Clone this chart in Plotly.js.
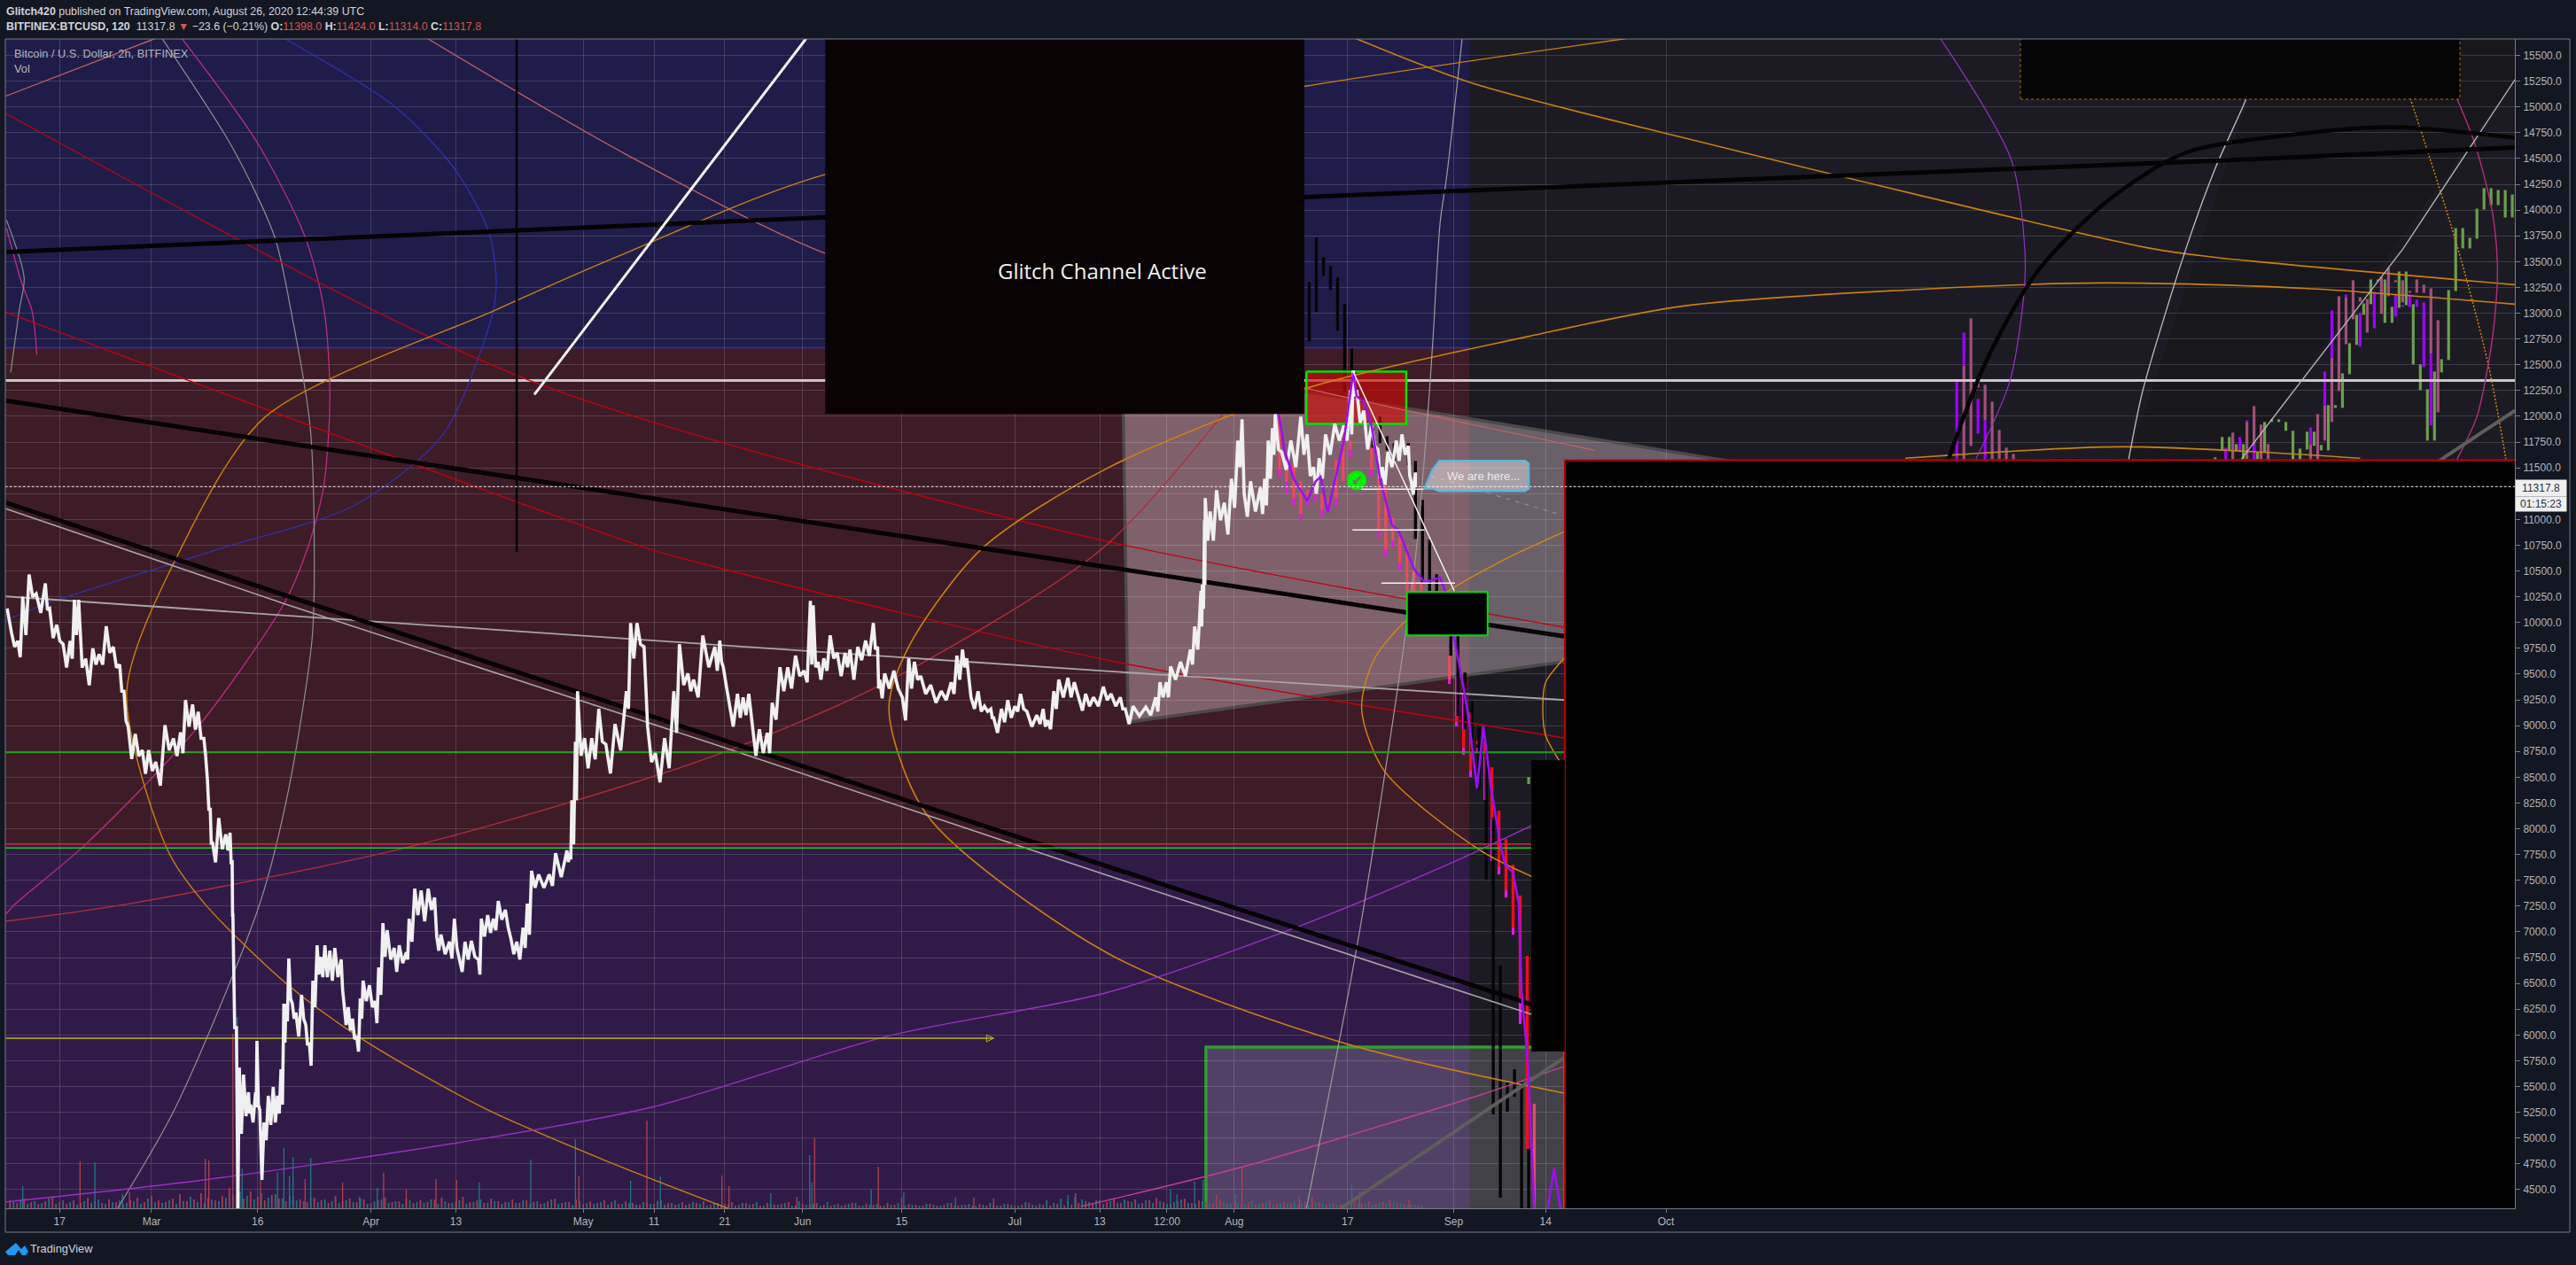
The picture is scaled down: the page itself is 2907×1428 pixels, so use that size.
<!DOCTYPE html>
<html><head><meta charset="utf-8">
<script src="https://cdn.plot.ly/plotly-3.0.1.min.js"></script>
<style>html,body{margin:0;padding:0;background:#131722;overflow:hidden}#c{width:2907px;height:1428px}</style>
</head><body><div id="c"></div>
<script>
// ---- axis labels
const xTickDates=['2020-02-17','2020-03-01','2020-03-16','2020-04-01','2020-04-13','2020-05-01','2020-05-11','2020-05-21','2020-06-01','2020-06-15','2020-07-01','2020-07-13','2020-07-22 12:00','2020-08-01','2020-08-17','2020-09-01','2020-09-14','2020-10-01'];
const xTickLabels=['17','Mar','16','Apr','13','May','11','21','Jun','15','Jul','13','12:00','Aug','17','Sep','14','Oct'];
const priceTicks=[4500,4750,5000,5250,5500,5750,6000,6250,6500,6750,7000,7250,7500,7750,8000,8250,8500,8750,9000,9250,9500,9750,10000,10250,10500,10750,11000,11250,11500,11750,12000,12250,12500,12750,13000,13250,13500,13750,14000,14250,14500,14750,15000,15250,15500];
const lastPrice=11317.8;
// ---- all "day" values: days since 2020-03-01
// white price series (high / low envelope)
const whiteDay=[-20.4,-19.8,-18.9,-18.2,-17.3,-16.3,-15,-14.4,-13.4,-12.5,-11.5,-10.9,-10.3,-9.3,-8.3,-7.4,-6.4,-5.4,-4.5,-3.9,-3.3,-2.3,-1.3,-0.4,0.6,1.9,3.1,4.1,4.8,5.8,6.6,7.4,7.9,8.3,8.6,9.5,10.5,11.1,11.4,11.5,12,12.4,13,13.7,14,14.7,14.9,15.3,15.9,16.5,17.2,17.8,18.3,18.7,19,19.4,19.9,20.4,21.2,21.8,22.3,22.8,23.4,23.9,24.5,25.2,25.9,26.8,27.2,27.8,28.4,29,29.5,29.9,30.8,31.6,32.1,32.7,33.3,34.3,35,36,36.4,37.2,38.1,39.1,40,40.3,40.9,42.1,42.8,43.5,44.3,45.2,46.2,46.6,47.5,48.3,49,50,50.8,51.6,52.5,53.1,53.7,54.7,56.2,57.1,58.7,59.1,59.4,59.9,60.2,61.2,62.2,63.2,64.2,65.5,67.1,67.7,68.6,69.6,70.1,71.2,72.5,73.8,74.6,75.8,76.6,77.9,79.6,80.3,80.8,81.6,82.8,83.6,84.4,84.9,85.9,87,87.7,88.8,89.9,91,92.2,93.1,93.5,94.2,95,95.9,96.9,98,98.7,99.8,100.9,102,102.6,102.9,103.6,104.9,106.1,107,107.8,108.7,110.1,111.6,113,113.8,114.6,115.2,115.8,116.8,117.7,118.6,119,120.1,121,122,122.8,123.7,125.1,126,126.6,127.5,128.2,129.5,130.4,131.1,132,133.1,134.5,135.6,136.9,137.6,138.7,140.5,141.9,142.5,143.4,144,145.4,146.8,147.4,148.3,148.5,148.8,148.9,149.6,150.5,151.6,152.6,153.5,154.1,154.4,155.3,156.7,157.3,157.8,158.4,158.8,159.7,161,162.4,163.3,164.2,165,165.9,167.2,168.5,169.4,169.8,170.3,171.3,172.4,173.3,173.9,174.7,175.9,176.7,177.6,178,178.6];
const whiteHigh=[10136,9907,9821,10250,10465,10279,10379,10136,9978,9792,9821,10221,10221,9649,9749,9692,9964,9764,9592,9334,8991,8919,8762,8762,8647,9005,8876,8934,9248,9205,9134,8876,8476,8189,7875,8104,7946,7961,7677,7162,6071,5685,5616,5444,5324,5444,5942,5272,5152,5410,5496,5410,5668,6303,6303,6741,6303,6217,6389,6097,5925,6526,6870,6758,6870,6818,6844,6732,6303,6269,6157,5985,6354,6526,6483,6329,6655,7084,7016,6844,6870,6801,7127,7419,7402,7419,7333,6955,6973,6904,7127,6732,6904,6913,6732,7127,7162,7127,7299,7213,6930,6904,7041,7273,7591,7557,7557,7763,7789,7763,8278,8845,9334,8879,8879,9162,8819,9016,9334,9995,9995,9764,8991,8733,8879,9334,9789,9506,9446,9875,9764,9824,9566,9248,9308,9274,9308,9016,8965,8930,9222,9566,9566,9678,9532,10210,10167,9618,9652,9875,9704,9704,9738,9764,9824,9995,9764,9446,9506,9532,9274,9652,9618,9480,9394,9334,9420,9678,9738,9652,9274,9334,9188,9162,9076,9162,9248,9188,9308,9137,9102,9162,9051,9334,9446,9463,9420,9248,9308,9274,9377,9308,9274,9162,9188,9180,9274,9420,9420,9574,9618,9738,9961,10305,10364,10991,11206,11077,11283,11163,11395,11764,11970,11249,11369,11309,11395,11764,11884,12022,11653,11764,11996,11824,11507,11593,11824,11927,11910,12254,12443,12254,12056,11910,11678,11507,11653,11764,11824,11713,11369,11455];
const whiteLow=[10007,9764,9663,9878,10250,10093,10121,9849,9821,9563,9649,9878,9563,9391,9592,9592,9706,9563,9334,9048,8676,8705,8533,8561,8418,8762,8705,8733,8991,8962,8876,8705,8189,7846,7674,7803,7789,7674,7162,6071,4319,5041,5213,5238,5152,5298,5324,4594,4980,5127,5152,5238,5324,5925,6131,6354,6157,5985,6157,5899,5702,6269,6586,6561,6561,6526,6561,6440,6097,6045,5960,5839,6157,6329,6269,6114,6389,6758,6732,6612,6698,6732,6904,7162,7101,7213,7187,6818,6784,6741,6844,6612,6732,6758,6586,6955,6990,7016,7119,7041,6784,6732,6844,6973,7428,7428,7445,7531,7677,7703,7849,8278,8707,8587,8673,8845,8536,8759,9162,9652,9789,9274,8647,8450,8587,8930,9394,9334,9274,9566,9532,9618,9394,8991,9076,9102,9162,8707,8733,8733,9059,9334,9360,9480,9420,9592,9566,9446,9532,9652,9480,9566,9446,9635,9678,9738,9360,9265,9360,9360,9051,9360,9446,9308,9222,9248,9308,9446,9566,9446,9162,9137,9137,9076,8930,9033,9076,9137,9162,8991,9016,8991,8965,9162,9274,9274,9334,9145,9188,9188,9248,9188,9162,9016,9094,9102,9137,9274,9274,9446,9480,9592,9738,9961,10133,10364,10794,10794,10991,10854,11112,11507,11507,11026,11077,11052,11137,11395,11627,11678,11481,11507,11627,11421,11249,11395,11627,11764,11764,11824,12194,11936,11678,11713,11395,11335,11507,11567,11627,11421,11240,11309];
// projected drop: candle pieces
const blackDay=[163.6,164.6,165.6,166.6,167.6,168.6,169.6,172.6,173.6,174.6,175.6,177.6,178.6,179.6,180.6,181.6,183.6,184.6,185.6,186.6,187.6,188.6,189.6,190.6,191.6,192.6,193.6,194.6];
const blackHigh=[13301,13731,13542,13456,13345,13087,12658,11885,11996,11807,11739,11739,11567,11189,10803,10468,9875,9875,9515,9240,8991,8733,8106,6672,5539,5668,5539,4895];
const blackLow=[12726,13010,13362,13224,12829,12237,12443,11696,11739,11670,11567,11524,10811,10390,10305,10305,9678,9094,8965,8733,8381,7505,5230,4422,5256,5401,4319,4319];
const magentaDay=[159.4,160.4,161.4,162.4,163.4,164.4,165.4,166.4,167.4,169.4,172.4,173.4,174.4,175.4,176.4,183.4,184.4,185.4,186.4,187.4,188.4,189.4,190.4,191.4,192.4,193.4];
const magentaHigh=[11481,11369,11206,11052,11206,11240,11095,11120,11206,11678,11481,10897,10708,10794,10579,9446,9480,9308,8570,8785,8776,8106,7634,7831,7041,6329];
const magentaLow=[11412,11249,11137,10991,11137,11172,11026,11077,11129,11601,11421,10828,10639,10725,10510,9403,8991,8716,8501,8750,8278,7685,7557,7333,6973,6106];
const salmonDay=[159.4,160.4,161.4,162.4,163.4,164.4,165.4,166.4,167.4,168.4,169.4,172.4,173.4,174.4,175.4,176.4,177.4,178.4,179.4,183.4,195.4];
const salmonHigh=[12022,11627,11541,11369,11283,11283,11249,11206,11575,11764,11764,11696,11653,11326,11017,10837,10734,10553,10390,9678,5333];
const salmonLow=[11481,11369,11206,11052,11206,11240,11095,11120,11206,11369,11678,11481,10897,10708,10794,10579,10305,10305,10305,9446,4319];
const redDay=[184.4,185.4,186.4,187.4,188.4,189.4,190.4,191.4,192.4,193.4,194.4];
const redHigh=[9094,8965,9128,8853,8845,8596,8175,7900,7651,7351,6767];
const redLow=[9059,8785,8570,8819,8690,8106,7634,7402,7041,6329,4895];
// right-hand candles
const greenDay=[194.6,291.6,292.6,293.6,294.6,295.6,297.6,298.6,299.6,300.6,301.6,302.6,303.6,304.6,305.6,306.6,307.6,308.6,309.6,310.6,311.6,312.6,313.6,314.6,315.6,316.6,317.6,318.6,319.6,320.6,321.6,322.6,323.6,324.6,325.6,326.6,327.6,328.6,329.6,330.6,331.6,332.6,333.6];
const greenHigh=[8501,11601,11799,11799,11730,11730,11653,11945,11970,11970,11945,11859,11687,11850,11850,11721,12108,12108,12417,12709,12984,13095,13327,13327,13327,13061,13404,13404,13087,12503,12262,12434,12554,13224,13825,13825,13731,14014,14212,14212,14194,14194,14151];
const greenLow=[8433,11584,11670,11670,11661,11584,11584,11653,11945,11945,11859,11584,11584,11678,11713,11670,11670,12082,12082,12408,12692,12984,13087,13310,12906,12906,13052,13078,12503,12254,11764,11764,12426,12546,13215,13628,13628,13722,14005,14048,14048,13928,13928];
const mauveDay=[256.1,257.1,258.1,259.1,260.1,261.1,262.1,263.1,294.1,296.1,297.1,298.1,299.1,305.1,306.1,307.1,308.1,309.1,310.1,311.1,312.1,313.1,314.1,315.1,316.1,317.1,318.1,319.1,320.1,321.1,322.1,323.1];
const mauveHigh=[12494,12949,12331,12305,12142,11867,11696,11635,11842,11945,12099,11919,11730,11730,12022,12108,12571,13164,13155,13319,13155,13138,13018,13353,13439,13319,13319,13215,13327,13276,13241,12932];
const mauveLow=[11584,11713,12280,11962,11584,11584,11584,11584,11584,11584,11584,11584,11584,11584,11584,11764,11945,12245,12700,12941,13112,12812,12975,12992,13164,13300,13104,13198,13198,13198,12606,12039];
const violetDay=[255.1,256.1,258.1,259.1,293.1,295.1,296.1,297.1,305.1,307.1,308.1,310.1,312.1,314.1,317.1,318.1,319.1,320.1,321.1,322.1];
const violetHigh=[12357,12812,12168,11962,11696,11799,11962,11721,11893,12434,13027,13181,13001,13207,13181,13078,13181,13130,13104,12606];
const violetLow=[11584,12494,11833,11584,11584,11653,11945,11584,11730,12108,12571,13155,12675,12855,12966,13061,13061,13061,12477,11910];
// moving average over the projected drop
const maDay=[159.3,160.1,161.4,163.3,164.5,165.2,166.2,168.5,169.8,170.3,171.3,172.4,173.6,175.3,176.2,178.4,179.9,182.1,182.8,184,185.5,186.2,187.3,188.2,189.3,190.5,191.2,192.4,193.2,193.6,194.5,195.4,null,197.3,198.2,199.1];
const maPrice=[12022,11670,11395,11181,11370,11412,11069,11765,12426,12194,12142,11910,11395,10940,10897,10519,10391,10434,10305,9875,9334,9033,8390,8991,8390,7892,7660,7574,7274,6415,5728,4319,null,4319,4706,4319];
// volume
const volDay=[];for(let d=-20;d<180;d++)volDay.push(d);
const volRed=[9,6,11,7,5,8,13,7,5,9,6,12,8,6,10,7,5,9,12,7,14,9,7,11,16,8,10,17,12,9,14,23,16,11,19,13,9,15,11,8,13,10,7,12,9,6,14,8,11,7,10,6,9,12,7,8,11,6,9,7,10,12,6,8,13,7,9,6,11,8,7,10,6,9,7,5,8,11,6,7,10,5,8,6,9,7,5,8,6,4,7,5,9,6,4,7,5,6,8,4,6,5,7,4,6,5,3,6,4,5,7,3,5,4,6,4,3,5,4,6,3,5,4,3,6,4,3,5,4,3,5,3,4,6,3,4,3,5,3,4,3,5,3,4,6,3,4,3,5,3,4,6,8,5,9,7,11,6,8,10,6,9,12,7,5,8,11,6,9,7,5,10,6,8,5,7,4,6,9,5,7,6,4,8,5,7,4,6,5,7,9,6,8,5,7,9,6,5,4,3];
const volTeal=[7,10,5,8,6,11,5,9,7,4,8,6,10,5,7,9,6,8,5,11,7,6,9,5,8,13,7,6,10,8,12,15,19,14,10,17,12,16,11,14,9,8,12,7,10,8,6,9,7,11,5,8,10,6,8,5,9,7,6,10,5,8,6,9,5,7,10,6,8,5,7,6,9,5,8,6,10,5,7,4,8,6,5,7,4,9,5,6,4,7,5,8,4,6,5,4,7,5,3,6,4,5,3,6,4,7,3,5,4,6,3,8,4,5,3,7,4,3,5,6,3,4,5,3,4,6,3,4,3,5,4,3,6,3,4,5,3,4,6,3,5,4,3,7,4,5,9,6,11,8,13,10,7,9,5,8,6,10,7,5,9,6,8,5,7,10,6,5,8,6,4,7,5,6,4,8,5,7,4,6,5,8,6,4,7,5,6,4,5,7,5,6,4,6,5,7,5,3,4,2];
const spikeRedDay=[-10.1,-3.1,7.6,8.1,11.5,15.4,21.7,27,32.8,36,40.2,43.1,60.4,70,80.6,81.6,91.2,93.7,102.7,106,116.2,119,130.6,150.5,154.1,162.2,164,170.7,177.7];
const spikeRedVol=[53,18,56,54,197,32,33,29,40,21,33,32,36,99,37,25,13,79,47,12,12,11,17,15,46,13,13,19,10];
const spikeTealDay=[-18.2,-8,-4.1,12.1,12.8,17.8,18.7,19.5,20,22.5,29.4,31.9,46.3,53.6,59.9,67.7,71.9,87.5,93,93.3,101.7,106.3,113.6,129.5,144,144.9,147.4,148.6,153.2,169.6];
const spikeTealVol=[25,52,16,216,45,41,68,36,58,57,13,23,29,55,78,31,36,17,60,29,21,18,12,15,21,16,30,32,16,27];
// ---- drawn trend lines and arcs: [days],[prices]
const topBlackDay=[-20.5,162.9,291.6,334], topBlackPrice=[13593,14126,14478,14607];
const arcBlackDay=[253.9,259.1,266.5,276.6,287.4,304.2,316.7,334], arcBlackPrice=[11576,12512,13405,14100,14555,14744,14804,14701];
const midBlackDay=[-20.6,135.1,199.6], midBlackPrice=[12151,10537,9867];
const lowBlackDay=[-20.6,19.4,78.8,135.1,195], lowBlackPrice=[11163,10253,8905,7634,6295];
const lowGreyPrice=[11103,10167,8836,7548,6200];
const greyLineDay=[-20.6,78.8,143.6,199.8], greyLinePrice=[10253,9789,9489,9248];
const whiteDiagDay=[54.1,92.5], whiteDiagPrice=[12211,15663];
const salmonADay=[-20.6,0.5], salmonAPrice=[15105,15663];
const salmonBDay=[39,66.2,95,135.1,163.2,204], salmonBPrice=[15663,14572,13585,12769,12271,11670];
const redUpDay=[-20.5,31.4,53.7,78.8,135.1,199.7], redUpPrice=[14933,13027,12340,11781,10786,9953];
const redLoDay=[-20.6,70.6,78.8,135.1,199.8], redLoPrice=[13010,10708,10554,9635,8879];
const redArcDay=[-20.6,-3.1,37.9,78.8,103.8,134.2,151.4], redArcPrice=[7102,7273,7849,8690,9420,10708,12022];
const orangeADay=[199.6,168.7,135.1,109.6,104.2,107,117.2,135.1,163.2,194.2,216.5,247.8,275.7,304.2,334];
const orangeAPrice=[5436,5917,6793,8132,9162,9764,10708,11498,12271,12769,13070,13224,13293,13241,13087];
const orangeBDay=[81.4,65,46.8,29.6,19,7.4,2.3,-3.5,4.1,16.1,48.5,66.2,95,162.9,208.4];
const orangeBPrice=[4319,4758,5298,5968,6501,7282,7789,9334,10708,11996,13027,13559,14341,15199,15663];
const orangeCDay=[199.6,187.8,174.2,171,172.7,177.3,183.2,191.5,199.6], orangeCPrice=[7402,7789,8561,9162,9635,10021,10305,10622,10880];
const orangeDDay=[199.7,197,196.6,197,199.3], orangeDPrice=[9661,9420,9188,8905,8621];
const orangeEDay=[170.2,186.5,216.5,282.5,291.6,334], orangeEPrice=[15663,15234,14701,13628,13542,13276];
const orangeFDay=[247.8,278.5,312.1], orangeFPrice=[11593,11704,11593];
const dottedDay=[316.2,319.2,325.8,330.2,332.7], dottedPrice=[15663,15079,13654,12503,11584];
const pinkRDay=[325.8,328.4,330.8,331.5,331.1,330.2,328.6,325.8], pinkRPrice=[15079,14624,13971,13456,12941,12503,11996,11584];
const pinkLDay=[4.3,14.9,21.7,24.4,25.2,24.3,22,18.8,6.6,-9.3,-19.2,-20.6], pinkLPrice=[15663,14658,13739,13027,12168,11309,10708,10193,8991,7849,7274,7170];
const pinkSDay=[-20.5,-18.3,-16.9,-16.2], pinkSPrice=[13825,13284,13027,12597];
const greySDay=[-20.5,-18,-18.7,-19.9], greySPrice=[13903,13344,13027,12426];
const greyLDay=[1.5,11.5,17.4,19.7,22.4,23,22.7,19.4,15.3,3.4,-4.8], greyLPrice=[15663,14598,13739,13027,11910,10708,9850,8390,7274,5298,4319];
const blueDay=[18.8,34.4,42.8,47.6,48.7,48.3,41.2,28.7,9.3,-14.4,-20.6], bluePrice=[15663,15002,14401,13800,13344,13027,11825,11138,10708,10193,10021];
const purpleLoDay=[-20.6,7.4,43.3,70.6,103.8,135.1,161.4,183.1,195], purpleLoPrice=[4380,4594,4955,5298,5985,6413,7034,7651,8029];
const magentaLoDay=[131.3,135.1,154.3,168.7,187.8,199.6], magentaLoPrice=[4337,4397,4723,5015,5419,5694];
const purpleRDay=[252.8,262.8,264.7,264.6,262.6,257.8], purpleRPrice=[15663,14487,13628,13199,12340,11584];
const greyMidDay=[185.2,183,182.1,181.1,180.6,178.6,175.1,170.3,163.2], greyMidPrice=[15663,14315,13885,12769,12254,10622,8905,6844,4319];
const whiteArcDay=[279.4,281.4,287.5,291.6,296,299.2], whiteArcPrice=[11584,12254,13628,14401,15079,15663];
const thinDiagDay=[295.3,318.2,334], thinDiagPrice=[11584,13628,15268];
const greyThickDay=[168.1,199.6,323.6,334], greyThickPrice=[4319,5779,11584,12056];
const peakDay=[169.8,184.1], peakPrice=[12434,10305];
const dashDay=[180.8,198.8], dashPrice=[11421,11051];
const stepDay=[170.9,179.9,null,169.7,179.9,null,173.8,184.2], stepPrice=[11292,11292,null,10897,10897,null,10382,10382];

// ---- helpers
const ORIGIN=Date.UTC(2020,2,1);
const iso=d=>d===null?null:new Date(ORIGIN+d*864e5).toISOString().slice(0,19).replace('T',' ');
const dates=a=>a.map(iso);
const L={l:6,r:69,t:43.5,b:64,w:2832,h:1320.5};
const fx=p=>(p-L.l)/L.w, fy=p=>(L.t+L.h-p)/L.h;
function curve(x,y,color,width,opt){opt=opt||{};return {type:'scatter',mode:'lines',x:dates(x),y:y,yaxis:'y2',hoverinfo:'skip',
  line:{color:color,width:width,shape:opt.straight?'linear':'spline',smoothing:0.8,dash:opt.dash||'solid'}};}
function bars(x,hi,lo,color,w,axis){return {type:'bar',x:dates(x),y:hi.map((v,i)=>v-lo[i]),base:lo,width:x.map(()=>w*864e5),yaxis:axis,hoverinfo:'skip',marker:{color:color,line:{width:0}}};}
function vols(x,v,color,w){return {type:'bar',x:dates(x),y:v,width:x.map(()=>w*864e5),yaxis:'y',hoverinfo:'skip',marker:{color:color,line:{width:0}}};}
const ORANGE='#cc7f12',RED='#c4000c',SALM='#c8605f',PINK='#c02b85',PURP='#9a2fc4',GREY='#a6a6a6';

// the white price is stroked high -> low for every reading, which gives the fuzzy 2h-candle look
const fuzzX=[],fuzzY=[];
whiteDay.forEach((d,i)=>{fuzzX.push(d,i+1<whiteDay.length?(d+whiteDay[i+1])/2:d);fuzzY.push(whiteHigh[i],whiteLow[i]);});

const traces=[
 vols(volDay,volRed,'#a33f4a',0.22),
 vols(volDay.map(d=>d+0.5),volTeal,'#1f7480',0.22),
 vols(spikeRedDay,spikeRedVol,'#b5404a',0.16),
 vols(spikeTealDay,spikeTealVol,'#1f7a86',0.16),
 curve([-20.6,334],[12348,12348],'#c9c7c7',3,{straight:true}),
 bars(magentaDay,magentaHigh,magentaLow,'#e818e0',0.4,'y2'),
 bars(salmonDay,salmonHigh,salmonLow,'#f0485e',0.4,'y2'),
 bars(redDay,redHigh,redLow,'#ff0a14',0.42,'y2'),
 bars(blackDay,blackHigh,blackLow,'#060404',0.42,'y2'),
 bars(mauveDay,mauveHigh,mauveLow,'#a34f7b',0.4,'y2'),
 bars(violetDay,violetHigh,violetLow,'#a000ff',0.4,'y2'),
 bars(greenDay,greenHigh,greenLow,'#6ba04a',0.4,'y2'),
 {type:'scatter',mode:'lines',x:dates([163.2,177.3,177.3,163.2,163.2]),y:[12434,12434,11927,11927,12434],yaxis:'y2',hoverinfo:'skip',fill:'toself',fillcolor:'rgba(208,9,3,0.64)',line:{color:'#00e400',width:2.5}},
 curve(blueDay,bluePrice,'#2f2fb0',1.3),
 curve(pinkLDay,pinkLPrice,PINK,1.3),
 curve(pinkSDay,pinkSPrice,PINK,1.3),
 curve(greySDay,greySPrice,'#8a8a8a',1.2),
 curve(greyLDay,greyLPrice,'#8f8f8f',1.2),
 curve(salmonADay,salmonAPrice,SALM,1.3,{straight:true}),
 curve(salmonBDay,salmonBPrice,SALM,1.3),
 curve(redUpDay,redUpPrice,RED,1.4),
 curve(redLoDay,redLoPrice,RED,1.4),
 curve(redArcDay,redArcPrice,'#b52c3a',1.4),
 curve(orangeADay,orangeAPrice,ORANGE,1.6),
 curve(orangeBDay,orangeBPrice,ORANGE,1.4),
 curve(orangeCDay,orangeCPrice,'#d9860f',1.4),
 curve(orangeDDay,orangeDPrice,'#d9860f',1.4),
 curve(orangeEDay,orangeEPrice,ORANGE,1.6),
 curve(orangeFDay,orangeFPrice,ORANGE,1.6),
 curve(dottedDay,dottedPrice,'#d9860f',1.5,{dash:'2px,2px'}),
 curve(pinkRDay,pinkRPrice,'#b82c7c',1.4),
 curve(purpleLoDay,purpleLoPrice,PURP,1.4),
 curve(magentaLoDay,magentaLoPrice,'#c2408f',1.4),
 curve(purpleRDay,purpleRPrice,PURP,1.2),
 curve(greyMidDay,greyMidPrice,'#9c9c9c',1.2),
 curve(whiteArcDay,whiteArcPrice,'#c0c0c0',1.3),
 curve(thinDiagDay,thinDiagPrice,'#b8b8b8',1.3,{straight:true}),
 curve(greyThickDay,greyThickPrice,'#5e5e5a',4,{straight:true}),
 curve(greyLineDay,greyLinePrice,GREY,1.8),
 curve(lowBlackDay,lowGreyPrice,GREY,1.6),
 curve(topBlackDay,topBlackPrice,'#050303',5),
 curve(arcBlackDay,arcBlackPrice,'#050303',4.5),
 curve(midBlackDay,midBlackPrice,'#050303',5),
 curve(lowBlackDay,lowBlackPrice,'#050303',5),
 curve([51.6,51.6],[15663,10683],'#050303',2.4,{straight:true}),
 curve(whiteDiagDay,whiteDiagPrice,'#f4f4f4',3,{straight:true}),
 curve([-20.6,186],[8742,8742],'#2a9d1e',2,{straight:true}),
 curve([-20.6,195],[7852,7852],'#cf2a38',1.5,{straight:true}),
 curve([-20.6,195],[7814,7814],'#22c81e',1.5,{straight:true}),
 curve([186,199.7],[8742,8742],'#189a18',2,{straight:true}),
 curve([-20.6,119],[5968,5968],'#b8b81a',1.4,{straight:true}),
 {type:'scatter',mode:'markers',x:dates([119]),y:[5968],yaxis:'y2',hoverinfo:'skip',marker:{symbol:'arrow-right-open',size:8,color:'#b8b81a',line:{color:'#b8b81a',width:1}}},
 curve(dashDay,dashPrice,'#8f8f98',1.2,{straight:true,dash:'5px,6px'}),
 {type:'scatter',mode:'lines',x:dates(fuzzX),y:fuzzY,yaxis:'y2',hoverinfo:'skip',line:{color:'#f0f0f0',width:3.6,shape:'linear'}},
 curve(maDay,maPrice,'#9a10f0',2.6,{straight:true}),
 curve(peakDay,peakPrice,'#f2f2f2',1.5,{straight:true}),
 curve(stepDay,stepPrice,'#f2f2f2',1.5,{straight:true}),
 {type:'scatter',mode:'markers',x:dates([170.3]),y:[11378],yaxis:'y2',hoverinfo:'skip',marker:{symbol:'circle',size:22,color:'#00ef00',line:{width:0}}}
];

const rect=(d0,d1,p0,p1,fill,line,layer,extra)=>Object.assign({type:'rect',xref:'x',yref:'y2',x0:iso(d0),x1:iso(d1),y0:p0,y1:p1,fillcolor:fill,layer:layer||'below',line:line||{width:0}},extra||{});
const pathOf=pts=>'M'+pts.map(p=>iso(p[0]).replace(' ','_')+','+p[1]).join(' L')+' Z';
const shapes=[
 rect(-20.7,186.2,12666,15700,'#1f1c4a'),
 rect(-20.7,186.2,7832,12666,'#3d1c27'),
 rect(-20.7,186.2,4300,7832,'#301b48'),
 {type:'line',xref:'x',yref:'y2',x0:iso(-20.7),x1:iso(186.2),y0:12666,y1:12666,layer:'below',line:{color:'#3a2f9c',width:1.5}},
 {type:'path',xref:'x',yref:'y2',layer:'below',fillcolor:'#18171b',line:{width:0},path:pathOf([[279.4,11584],[299.2,15663],[334,15663],[334,15268],[295.3,11584]])},
 {type:'path',xref:'x',yref:'y2',layer:'below',fillcolor:'rgba(255,232,244,0.34)',line:{color:'#4b4947',width:3.5},path:pathOf([[137.2,12529],[306.1,10631],[138,9034]])},
 rect(149,199.7,4250,5882,'rgba(255,255,255,0.17)',{color:'#2ca02c',width:3.5}),
 rect(95.2,162.9,12022,15700,'#090403',null,'above'),
 rect(177.4,188.8,9875,10296,'#000',{color:'#00e000',width:2},'above'),
 rect(199.7,334.1,4200,11575,'#000',{color:'#c40000',width:2},'above'),
 rect(195,199.7,5839,8664,'#000',null,'above'),
 rect(264.1,326.2,15075,15700,'#050505',{color:'#a86f1c',width:1,dash:'dot'},'above'),
 {type:'line',xref:'x',yref:'y2',x0:iso(-20.7),x1:iso(334),y0:lastPrice,y1:lastPrice,layer:'above',line:{color:'#f2f2f2',width:1,dash:'3px,2px'}},
 {type:'path',xref:'x',yref:'y2',layer:'above',fillcolor:'rgba(255,255,255,0.42)',line:{color:'#62b6d8',width:2.5},
  path:pathOf([[182,11567],[194.1,11567],[194.6,11541],[194.6,11301],[194.1,11275],[182,11275],[181,11301],[179.9,11300],[181,11480]])},
 {type:'rect',xref:'paper',yref:'paper',x0:fx(6),x1:fx(2900),y0:fy(43.5),y1:fy(1391),layer:'above',line:{color:'#787b86',width:1},fillcolor:'rgba(0,0,0,0)'},
 {type:'path',xref:'paper',yref:'paper',layer:'above',fillcolor:'#2196f3',line:{width:0},
  path:'M'+[[6,1413],[13,1407],[18,1403],[24,1410],[28,1406],[32,1413],[29,1417],[25,1417],[21,1411],[17,1417],[9,1417]].map(p=>fx(p[0])+','+fy(p[1])).join(' L')+' Z'}
];

const txt=(x,y,text,o)=>Object.assign({xref:'paper',yref:'paper',x:fx(x),y:fy(y),text:text,showarrow:false,xanchor:'left',yanchor:'middle',align:'left',
  font:{family:'Liberation Sans, Arial, sans-serif',size:12,color:'#c8cad2'},borderpad:0},o||{});
const R='#d9534f';
const annotations=[
 txt(6,12.5,'<b>Glitch420</b> published on TradingView.com, August 26, 2020 12:44:39 UTC',{font:{family:'Liberation Sans',size:12.4,color:'#d1d4dc'}}),
 txt(6,29.5,'<b>BITFINEX:BTCUSD, 120</b>  11317.8 <span style="color:'+R+'">▼</span> −23.6 (−0.21%) <b>O:</b><span style="color:'+R+'">11398.0</span> <b>H:</b><span style="color:'+R+'">11424.0</span> <b>L:</b><span style="color:'+R+'">11314.0</span> <b>C:</b><span style="color:'+R+'">11317.8</span>',{font:{family:'Liberation Sans',size:12.4,color:'#d1d4dc'}}),
 txt(15,60,'Bitcoin / U.S. Dollar, 2h, BITFINEX',{font:{family:'Liberation Sans',size:12.8,color:'#b2b5be'}}),
 txt(15,77,'Vol',{font:{family:'Liberation Sans',size:12.8,color:'#b2b5be'}}),
 txt(1244,305,'Glitch Channel Active',{xanchor:'center',font:{family:'Open Sans',size:24,color:'#f0f0f0'}}),
 txt(1674,537,'We are here...',{xanchor:'center',font:{family:'Liberation Sans',size:13,color:'#ece8ec'}}),
 txt(1531,542,'✔',{xanchor:'center',font:{family:'DejaVu Sans',size:16,color:'#5f7f5f'}}),
 txt(33,1410,'TradingView',{font:{family:'Liberation Sans',size:12.8,color:'#d1d4dc'}}),
 txt(2838,551,'11317.8',{xanchor:'left',font:{family:'Liberation Sans',size:12,color:'#2a2e39'},bgcolor:'#efefef',width:57,height:18,align:'center'}),
 txt(2838,568.5,'01:15:23',{xanchor:'left',font:{family:'Liberation Sans',size:12,color:'#2a2e39'},bgcolor:'#efefef',width:57,height:16,align:'center'})
];

const layout={
 width:2907,height:1428,paper_bgcolor:'#131722',plot_bgcolor:'#1c1b24',showlegend:false,barmode:'overlay',hovermode:false,
 margin:{l:L.l,r:L.r,t:L.t,b:L.b,pad:0,autoexpand:false},
 font:{family:'Liberation Sans, Arial, sans-serif'},
 xaxis:{type:'date',range:[iso(-20.66),iso(333.96)],tickmode:'array',tickvals:xTickDates,ticktext:xTickLabels,
   showgrid:true,gridcolor:'rgba(255,255,255,0.14)',gridwidth:1,zeroline:false,ticks:'outside',ticklen:4,tickcolor:'#787b86',
   showline:true,linecolor:'#787b86',linewidth:1,tickfont:{family:'Liberation Sans',size:12,color:'#b2b5be'},tickangle:0,anchor:'y'},
 yaxis:{range:[0,1320.5],visible:false,showgrid:false,zeroline:false,fixedrange:true},
 yaxis2:{overlaying:'y',side:'right',anchor:'x',range:[4319,15659],tickmode:'array',tickvals:priceTicks,
   ticktext:priceTicks.map(v=>v===11250?'':v.toFixed(1)),showgrid:true,gridcolor:'rgba(255,255,255,0.14)',gridwidth:1,zeroline:false,
   ticks:'outside',ticklen:5,tickcolor:'#787b86',showline:true,linecolor:'#787b86',linewidth:1,
   tickfont:{family:'Liberation Sans',size:12,color:'#b2b5be'},ticklabelstandoff:1},
 shapes:shapes,annotations:annotations
};
Plotly.newPlot('c',traces,layout,{displayModeBar:false,staticPlot:true});
</script></body></html>
